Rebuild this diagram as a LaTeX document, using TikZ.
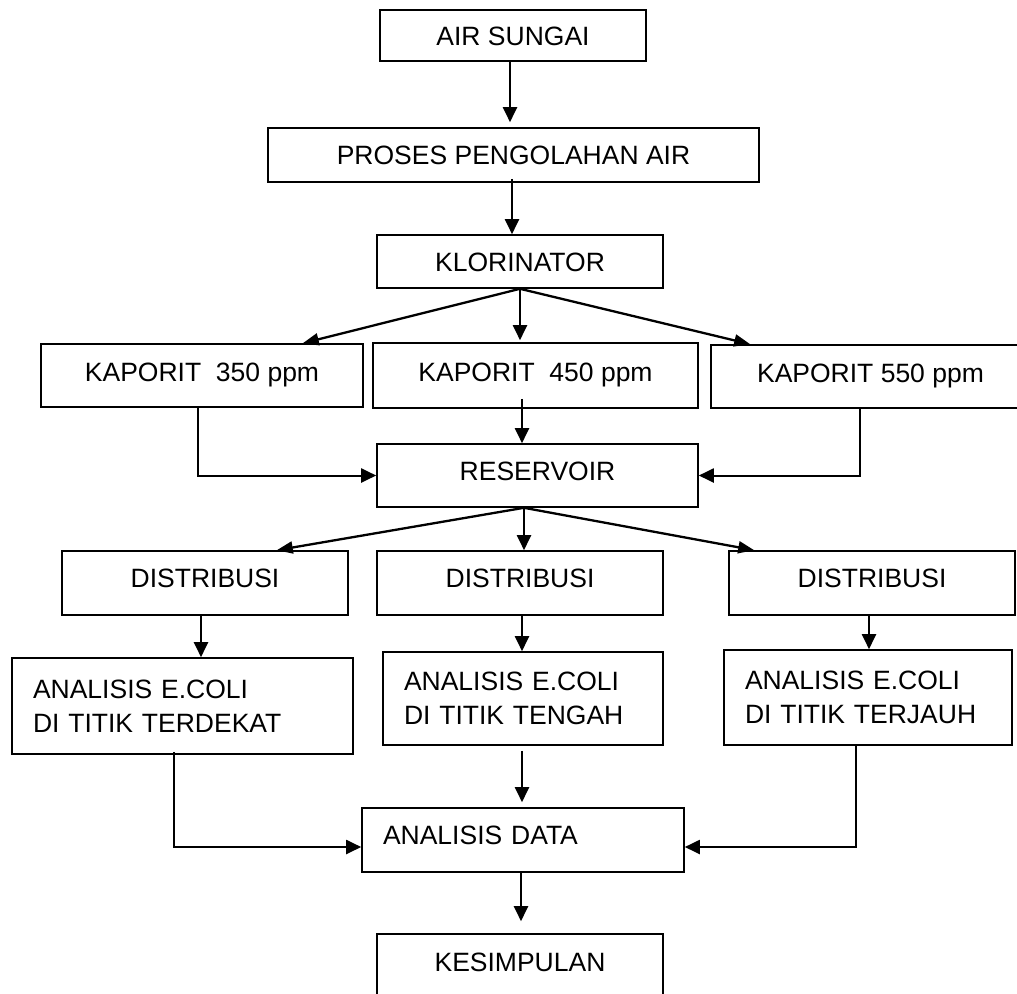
\documentclass[tikz,border=0pt]{standalone}
\usepackage{fontspec}
\setmainfont{Liberation Sans}
\usetikzlibrary{arrows.meta}
\begin{document}
\begin{tikzpicture}[x=1pt,y=-1pt,
  base/.style={draw, line width=1.6pt, inner sep=0pt, font=\fontsize{26.5}{34}\selectfont},
  onebox/.style={base, text height=19pt, text depth=#1},
  onebox/.default=0pt,
  anabox/.style={base, align=left, inner xsep=21pt},
  arr/.style={-{Triangle[length=15pt,width=14pt]}, line width=2pt},
  darr/.style={-{Triangle[length=16pt,width=12pt]}, line width=2.3pt}]
\useasboundingbox (0,0) rectangle (1017,993);
\clip (0,0) rectangle (1017,993);
\fill[white] (0,0) rectangle (1017,993);

% nodes
\node[onebox, minimum width=266pt, minimum height=51pt] (air) at (513,35.5) {AIR SUNGAI};
\node[onebox, minimum width=491pt, minimum height=54pt] (proses) at (513.5,155) {PROSES PENGOLAHAN AIR};
\node[onebox, minimum width=286pt, minimum height=53pt] (klor) at (520,261.5) {KLORINATOR};
\node[onebox=8pt, minimum width=322pt, minimum height=63pt] (k350) at (202,375.5) {KAPORIT\ \ 350 ppm};
\node[onebox=8pt, minimum width=325pt, minimum height=65pt] (k450) at (535.5,375.5) {KAPORIT\ \ 450 ppm};
\node[onebox=8pt, minimum width=319pt, minimum height=63pt] (k550) at (870.5,376.5) {KAPORIT 550 ppm};
\node[onebox=9pt, minimum width=321pt, minimum height=63pt] (res) at (537.5,475.5) {RESERVOIR};
\node[onebox=10pt, minimum width=286pt, minimum height=64pt] (d1) at (205,583) {DISTRIBUSI};
\node[onebox=10pt, minimum width=286pt, minimum height=64pt] (d2) at (520,583) {DISTRIBUSI};
\node[onebox=10pt, minimum width=286pt, minimum height=64pt] (d3) at (872,583) {DISTRIBUSI};
\node[anabox, text width=299pt, minimum height=96pt] (a1) at (182.5,706) {ANALISIS E.COLI\\DI TITIK TERDEKAT};
\node[anabox, text width=238pt, minimum height=93pt] (a2) at (523,698.5) {ANALISIS E.COLI\\DI TITIK TENGAH};
\node[anabox, text width=246pt, minimum height=95pt] (a3) at (868,697.5) {ANALISIS E.COLI\\DI TITIK TERJAUH};
\node[anabox, text width=280pt, minimum height=64pt, text height=19pt, text depth=10pt] (ad) at (523,840) {ANALISIS DATA};
\node[onebox=24pt, minimum width=286pt, minimum height=80pt] (kes) at (520,974) {KESIMPULAN};

% connectors
\draw[arr, shorten >=5pt] ([xshift=-3pt]air.south) coordinate (p1) -- (p1 |- proses.north);
\draw[arr] ([xshift=-1.5pt,yshift=4pt]proses.south) coordinate (p2) -- (p2 |- klor.north);

\draw[darr] (klor.south) -- ([xshift=-61pt]k350.north east);
\draw[arr, shorten >=2pt] (klor.south) -- (klor.south |- k450.north);
\draw[darr] (klor.south) -- ([xshift=40pt]k550.north west);

\draw[arr] ([xshift=-4pt]k350.south) |- (res.west);
\draw[arr] ([xshift=-13.5pt,yshift=10pt]k450.south) coordinate (p3) -- (p3 |- res.north);
\draw[arr] ([xshift=-10.5pt]k550.south) |- (res.east);

\draw[darr] ([xshift=-13.5pt]res.south) coordinate (r0) -- ([xshift=-72pt]d1.north east);
\draw[arr] (r0) -- (r0 |- d2.north);
\draw[darr] (r0) -- ([xshift=26pt]d3.north west);

\draw[arr] ([xshift=-4pt]d1.south) coordinate (p4) -- (p4 |- a1.north);
\draw[arr] ([xshift=2pt]d2.south) coordinate (p5) -- (p5 |- a2.north);
\draw[arr] ([xshift=-3pt]d3.south) coordinate (p6) -- (p6 |- a3.north);

\draw[arr] ([xshift=-8.5pt,yshift=3pt]a1.south) |- ([yshift=-7pt]ad.west);
\draw[arr, shorten >=5pt] ([xshift=-1pt,yshift=-5pt]a2.south) coordinate (p7) -- (p7 |- ad.north);
\draw[arr] ([xshift=-12pt]a3.south) |- ([yshift=-7pt]ad.east);
\draw[arr, shorten >=12pt] ([xshift=-2pt]ad.south) coordinate (p8) -- (p8 |- kes.north);
\end{tikzpicture}
\end{document}
